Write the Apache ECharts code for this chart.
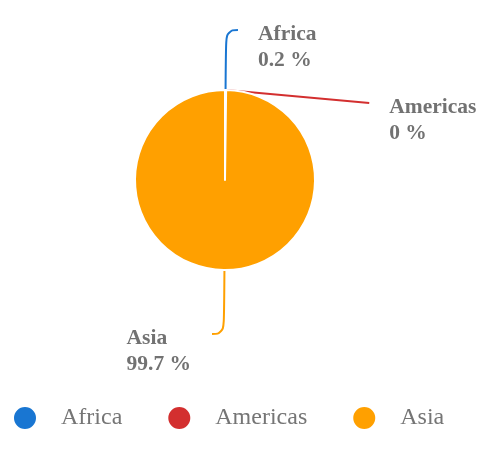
<!DOCTYPE html>
<html>
<head>
<meta charset="utf-8">
<script src="https://cdn.jsdelivr.net/npm/echarts@6/dist/echarts.min.js"></script>
<style>html,body{margin:0;padding:0;background:#fff;}#c{width:487px;height:463px;}</style>
</head>
<body>
<div id="c"></div>
<script>
const categories = ['Africa', 'Americas', 'Asia'];
const values = [0.2, 0, 99.7];
const colors = ['#1976d2', '#d32f2f', '#ffa000'];

const CX = 225, CY = 180, R = 90;
const chart = echarts.init(document.getElementById('c'), null, {renderer: 'canvas'});
const font = '"Liberation Serif", "Times New Roman", serif';
const labelText = {fontFamily: font, fontSize: 21.5, fontWeight: 'bold', color: '#727272', align: 'left'};
const RAISE = 10;
chart.setOption({
  animation: false,
  color: colors,
  legend: {
    data: categories, left: 7, top: 400, icon: 'circle', itemWidth: 24, itemHeight: 24, itemGap: 44,
    textStyle: {fontFamily: font, fontSize: 24, color: '#757575', padding: [0, 0, 0, 19]}
  },
  series: [{
    type: 'pie', center: [CX, CY], radius: R, startAngle: 90, clockwise: true,
    itemStyle: {borderColor: '#fff', borderWidth: 2},
    data: categories.map((c, i) => ({name: c, value: values[i]})),
    label: {
      show: true,
      formatter: p => '{n|' + p.name + '}\n{v|' + p.value + ' %}',
      distanceToLabelLine: 3, overflow: 'none', padding: [0, 18, 12, 17], backgroundColor: 'rgba(0,0,0,0)',
      rich: {n: Object.assign({lineHeight: 8}, labelText), v: Object.assign({lineHeight: 44}, labelText)}
    },
    labelLine: {show: true, length: 64, length2: 12, smooth: 0.5, lineStyle: {width: 2}},
    labelLayout: function (params) {
      const pts = params.labelLinePoints;
      if (!pts || pts[0][1] >= CY) return {verticalAlign: 'top'};
      const moved = pts.map((p, i) => i === 0 ? [p[0], p[1]] : [p[0], p[1] - RAISE]);
      return {verticalAlign: 'top', y: pts[2][1] - RAISE, labelLinePoints: moved};
    }
  }]
});
</script>
</body>
</html>
